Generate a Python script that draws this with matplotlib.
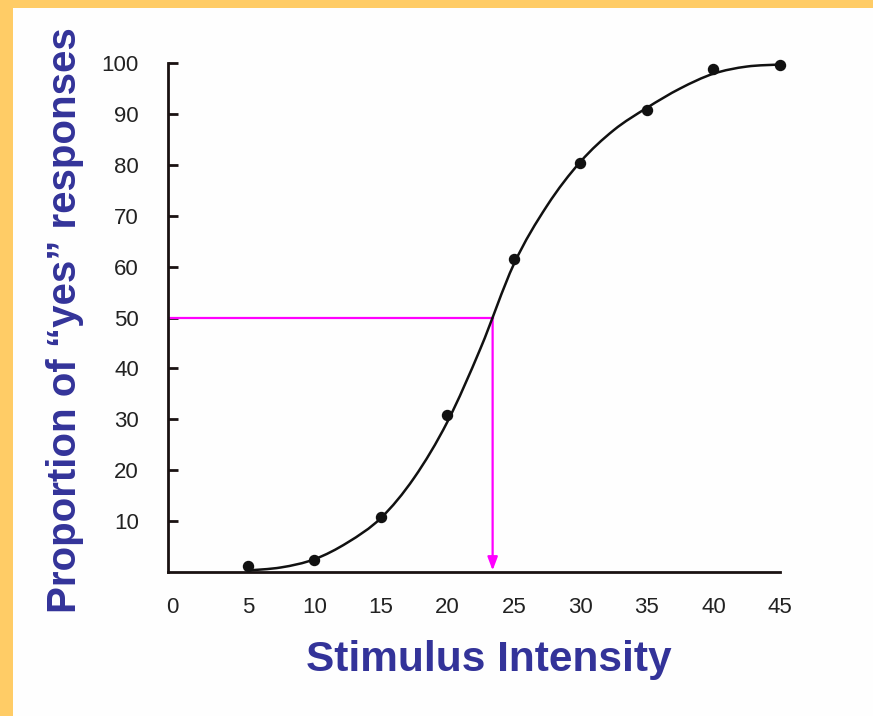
import matplotlib
matplotlib.use("Agg")
import matplotlib.pyplot as plt
from matplotlib.path import Path
from matplotlib.patches import PathPatch, Rectangle

# ---- data ----
stim_x = [5, 10, 15, 20, 25, 30, 35, 40, 45]
yes_pct = [1.2, 2.4, 10.8, 30.8, 61.4, 80.4, 90.8, 98.8, 99.6]

curve_x = [5, 7.5, 10, 12.5, 15, 17.5, 20, 22.5, 25, 27.5, 30, 32.5, 35, 37.5, 40, 42.5, 45]
curve_y = [0.3, 0.9, 2.5, 5.8, 10.6, 18.5, 29.5, 44.0, 60.5, 72.0, 80.6, 86.8, 91.2, 95.0, 97.9, 99.3, 99.7]

threshold_x = 23.4
threshold_y = 50

xtick_pos = [-0.7, 5, 10, 15, 20, 25, 30, 35, 40, 45]
xtick_labels = ["0", "5", "10", "15", "20", "25", "30", "35", "40", "45"]
ytick_pos = [10, 20, 30, 40, 50, 60, 70, 80, 90, 100]
ytick_labels = ["10", "20", "30", "40", "50", "60", "70", "80", "90", "100"]

W, H = 873, 716
fig = plt.figure(figsize=(W / 100, H / 100), dpi=100)
fig.patch.set_facecolor("#FEFEFE")

# orange frame (top and left bands)
fig.patches.append(Rectangle((0, 1 - 8 / H), 1, 8 / H, transform=fig.transFigure,
                             facecolor="#FFCC66", edgecolor="none", zorder=0))
fig.patches.append(Rectangle((0, 0), 13 / W, 1, transform=fig.transFigure,
                             facecolor="#FFCC66", edgecolor="none", zorder=0))

left_px, right_px, top_px, bottom_px = 168, 780, 63, 572
ax = fig.add_axes([left_px / W, 1 - bottom_px / H, (right_px - left_px) / W, (bottom_px - top_px) / H])
ax.set_facecolor("none")
ax.set_xlim(-1.0, 45)
ax.set_ylim(0, 100)

for s in ["top", "right"]:
    ax.spines[s].set_visible(False)
for s in ["left", "bottom"]:
    ax.spines[s].set_linewidth(2.0)
    ax.spines[s].set_color("#1a1212")

# smooth curve: Catmull-Rom rendered as cubic Bezier path through read points
pts = list(zip(curve_x, curve_y))
verts = [pts[0]]
codes = [Path.MOVETO]
n = len(pts)
for i in range(n - 1):
    p0 = pts[i - 1] if i > 0 else pts[i]
    p1 = pts[i]
    p2 = pts[i + 1]
    p3 = pts[i + 2] if i + 2 < n else pts[i + 1]
    c1 = (p1[0] + (p2[0] - p0[0]) / 6, p1[1] + (p2[1] - p0[1]) / 6)
    c2 = (p2[0] - (p3[0] - p1[0]) / 6, p2[1] - (p3[1] - p1[1]) / 6)
    verts += [c1, c2, p2]
    codes += [Path.CURVE4] * 3
ax.add_patch(PathPatch(Path(verts, codes), facecolor="none", edgecolor="#111111",
                       linewidth=1.8, zorder=3, clip_on=False))

ax.plot(stim_x, yes_pct, "o", color="#111111", markersize=7.2, zorder=4, clip_on=False)

# magenta threshold lines
ax.plot([-1.0, threshold_x], [threshold_y, threshold_y], color="#FF00FF", linewidth=1.6, zorder=2)
ax.annotate("", xy=(threshold_x, 0.3), xytext=(threshold_x, threshold_y),
            arrowprops=dict(arrowstyle="-|>,head_length=0.8,head_width=0.3",
                            color="#FF00FF", linewidth=1.6, shrinkA=0, shrinkB=0),
            zorder=2)

# ticks
ax.set_xticks(xtick_pos)
ax.set_xticklabels(xtick_labels)
ax.set_xticks(stim_x, minor=True)
ax.tick_params(axis="x", which="major", length=0, pad=18, labelsize=16, labelcolor="#222222")
ax.tick_params(axis="x", which="minor", direction="in", length=7, width=2, color="#1a1212")
ax.set_yticks(ytick_pos)
ax.set_yticklabels(ytick_labels)
ax.tick_params(axis="y", which="major", direction="in", length=7, width=2, color="#1a1212",
               pad=21, labelsize=16, labelcolor="#222222")
for lab in ax.get_xticklabels() + ax.get_yticklabels():
    lab.set_fontfamily("Liberation Sans")

fig.text(489 / W, 1 - 660 / H, "Stimulus Intensity", ha="center", va="center",
         fontsize=30.5, fontweight="bold", color="#333399", family="Liberation Sans")
fig.text(65 / W, 1 - 320 / H, "Proportion of \u201cyes\u201d responses", ha="center", va="center",
         rotation=90, fontsize=29, fontweight="bold", color="#333399", family="Liberation Sans")

fig.savefig("out.png", dpi=100, facecolor=fig.get_facecolor())
